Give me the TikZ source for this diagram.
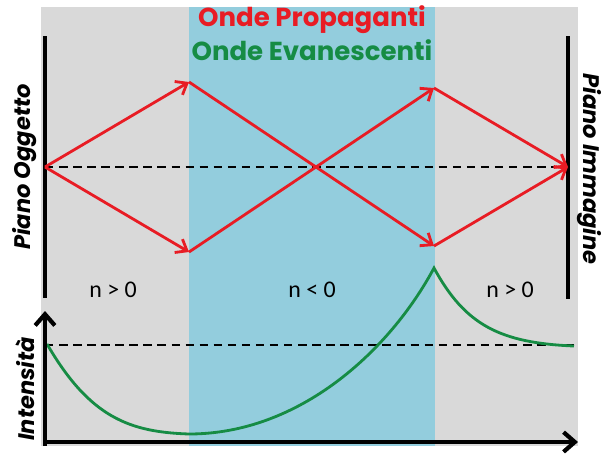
\documentclass[tikz,border=0pt]{standalone}
\usepackage{fontspec}
\newfontfamily\gothic{Poppins}
\newfontfamily\calibri{Carlito}
\usetikzlibrary{arrows.meta}

\definecolor{fondo}{RGB}{217,217,217}
\definecolor{azzurro}{RGB}{147,205,221}
\definecolor{rosso}{RGB}{232,28,36}
\definecolor{verde}{RGB}{22,140,68}

\tikzset{
    raggio/.style={rosso, line width=2pt},
    freccia/.style={raggio, -{Straight Barb[length=7pt, width=11pt, line width=2pt]}},
    piano/.style={line width=3pt},
    asse/.style={line width=3pt, -{Straight Barb[length=8pt, width=14pt, line width=3pt]}},
    tratteggio/.style={line width=1.2pt, dash pattern=on 6pt off 4pt},
    etichetta/.style={font=\gothic\bfseries\itshape\fontsize{16}{16}\selectfont},
    titolo/.style={font=\gothic\bfseries\fontsize{18.5}{18.5}\selectfont},
    indice/.style={font=\calibri\fontsize{17}{17}\selectfont},
}

\begin{document}
\begin{tikzpicture}[x=0.025cm, y=-0.025cm]
    \useasboundingbox (0,0) rectangle (604,456);

    % sfondo: due mezzi n>0 e una lastra n<0
    \fill[fondo] (41,7) rectangle (578,446);
    \fill[azzurro] (189,7) rectangle (435,446);

    % titoli
    \node[rosso, titolo] (tprop) at (312,20) {Onde Propaganti};
    \node[verde, titolo] (tevan) at (312,50) {Onde Evanescenti};

    % piani oggetto e immagine
    \coordinate (oggA) at (45,36);
    \coordinate (oggB) at (45,298);
    \coordinate (immA) at (568,36);
    \coordinate (immB) at (568,299);
    \draw[piano] (oggA) -- (oggB);
    \draw[piano] (immA) -- (immB);
    \node[etichetta, rotate=90] (loggetto) at (25,167) {Piano Oggetto};
    \node[etichetta, rotate=-90] (limmagine) at (589,169) {Piano Immagine};

    % asse ottico
    \coordinate (src) at (45,167);
    \coordinate (img) at (568,167);
    \draw[tratteggio] (src) -- (img);

    % raggi
    \coordinate (a1) at (189,82);
    \coordinate (a2) at (189,252);
    \coordinate (b1) at (434,88);
    \coordinate (b2) at (434,246);
    \draw[freccia] (src) -- (a1);
    \draw[freccia] (src) -- (a2);
    \draw[freccia] (a1) -- (b2);
    \draw[freccia] (a2) -- (b1);
    \draw[freccia] (b1) -- (img);
    \draw[freccia] (b2) -- (img);

    % indici di rifrazione
    \node[indice] (n1) at (113,290) {n > 0};
    \node[indice] (n2) at (312,290) {n < 0};
    \node[indice] (n3) at (510,290) {n > 0};

    % grafico dell'intensita
    \coordinate (orig) at (45,442);
    \coordinate (yfin) at (45,311);
    \coordinate (xfin) at (578,442);
    \coordinate (picco) at (434,268);
    \draw[tratteggio] (45,345) -- (575,345);
    \draw[verde, line width=2pt] (47,344) .. controls (90,418) and (130,432) .. (189,434)
        .. controls (300,434) and (390,350) .. (picco)
        .. controls (465,325) and (500,343) .. (574,346);
    \draw[asse] (45,446) -- (yfin);
    \draw[asse] (43.5,442) -- (xfin);
    \node[etichetta, rotate=90] (lint) at (25,389) {Intensità};
\end{tikzpicture}
\end{document}
